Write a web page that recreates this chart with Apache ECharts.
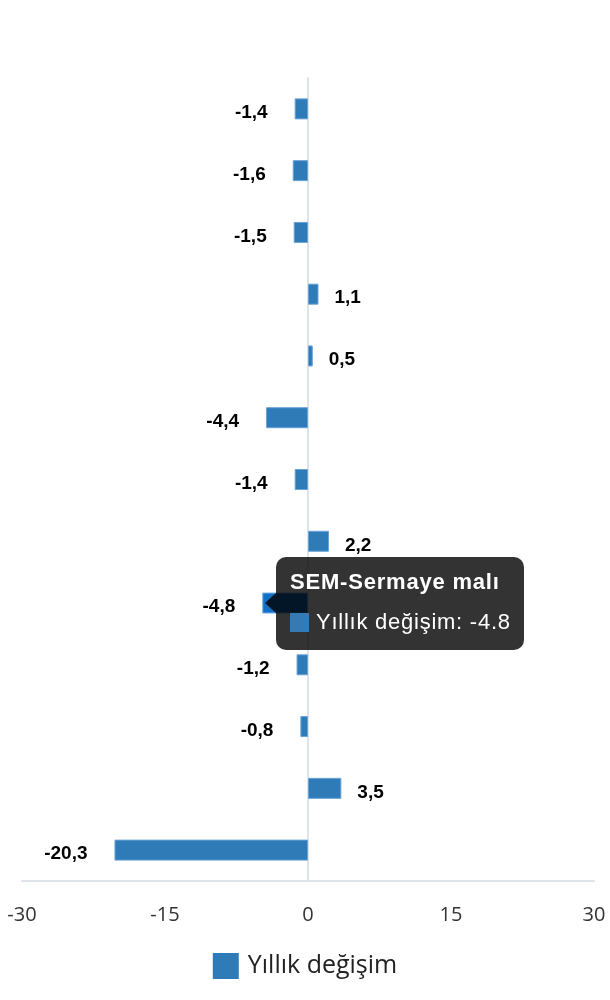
<!DOCTYPE html>
<html>
<head>
<meta charset="utf-8">
<script src="https://cdn.jsdelivr.net/npm/echarts@6/dist/echarts.min.js"></script>
<style>
  html, body { margin: 0; padding: 0; background: #fff; }
  #chart { width: 610px; height: 1000px; }
</style>
</head>
<body>
<div id="chart"></div>
<script>
// Category names (axis labels are hidden in the reference; only one name is visible in the tooltip)
const categories = ['Kalem 1', 'Kalem 2', 'Kalem 3', 'Kalem 4', 'Kalem 5', 'Kalem 6', 'Kalem 7',
  'Kalem 8', 'SEM-Sermaye malı', 'Kalem 10', 'Kalem 11', 'Kalem 12', 'Kalem 13'];
const values = [-1.4, -1.6, -1.5, 1.1, 0.5, -4.4, -1.4, 2.2, -4.8, -1.2, -0.8, 3.5, -20.3];
const seriesName = 'Yıllık değişim';
const xTicks = [-30, -15, 0, 15, 30];
const tooltipIndex = 8;

const barColor = '#2f7bb8';
const chart = echarts.init(document.getElementById('chart'), null, { renderer: 'canvas' });

const data = values.map(v => ({
  value: v,
  label: { position: v < 0 ? 'left' : 'right', distance: v < 0 ? 27 : 16 }
}));

chart.setOption({
  animation: false,
  grid: { left: 22, right: 16, top: 78, bottom: 119, containLabel: false },
  legend: {
    bottom: 16,
    left: 'center',
    icon: 'rect',
    itemWidth: 26,
    itemHeight: 26,
    itemGap: 10,
    itemStyle: { borderWidth: 0 },
    textStyle: { fontSize: 25, color: '#222', fontFamily: 'Open Sans', padding: [0, 0, 0, 4] },
    data: [seriesName]
  },
  tooltip: {
    trigger: 'item',
    triggerOn: 'none',
    alwaysShowContent: true,
    backgroundColor: 'rgba(0,0,0,0.8)',
    borderWidth: 0,
    padding: [11, 13, 14, 14],
    extraCssText: 'border-radius:10px;box-shadow:none;',
    position: [276, 557],
    formatter: function (p) {
      return '<div style="position:relative;font-family:\'Liberation Sans\',Arial,sans-serif;color:#fff;">' +
        '<div style="position:absolute;left:-25px;top:25px;width:0;height:0;border-top:10px solid transparent;border-bottom:10px solid transparent;border-right:11px solid rgba(0,0,0,0.8);"></div>' +
        '<div style="font-weight:bold;font-size:22px;line-height:28px;letter-spacing:0.8px;white-space:nowrap;">' + p.name + '</div>' +
        '<div style="margin-top:12px;font-size:22px;line-height:28px;letter-spacing:0.75px;white-space:nowrap;">' +
        '<span style="display:inline-block;width:19px;height:19px;background:#337ab7;vertical-align:-3px;margin-right:7px;"></span>' +
        p.seriesName + ': ' + p.value + '</div></div>';
    }
  },
  xAxis: {
    type: 'value',
    min: xTicks[0],
    max: xTicks[xTicks.length - 1],
    interval: 15,
    splitLine: { show: false },
    axisLine: { show: true, lineStyle: { color: '#dfe4ea', width: 2 } },
    axisTick: { show: false },
    axisLabel: { color: '#333', fontSize: 20, margin: 24, fontFamily: 'Open Sans' }
  },
  yAxis: {
    type: 'category',
    inverse: true,
    data: categories,
    axisLine: { show: true, onZero: true, lineStyle: { color: '#dfe4ea', width: 2 } },
    axisTick: { show: false },
    axisLabel: { show: false }
  },
  series: [{
    name: seriesName,
    type: 'bar',
    barWidth: 21,
    data: data,
    itemStyle: { color: barColor, borderColor: '#6aa3d6', borderWidth: 1 },
    emphasis: { focus: 'none', itemStyle: { color: '#1170c4' } },
    label: {
      show: true,
      color: '#000',
      fontWeight: 'bold',
      fontSize: 19,
      fontFamily: 'Liberation Sans',
      offset: [0, 4],
      formatter: p => p.value.toFixed(1).replace('.', ',')
    }
  }]
});

chart.dispatchAction({ type: 'highlight', seriesIndex: 0, dataIndex: tooltipIndex });
chart.dispatchAction({ type: 'showTip', seriesIndex: 0, dataIndex: tooltipIndex });
</script>
</body>
</html>
